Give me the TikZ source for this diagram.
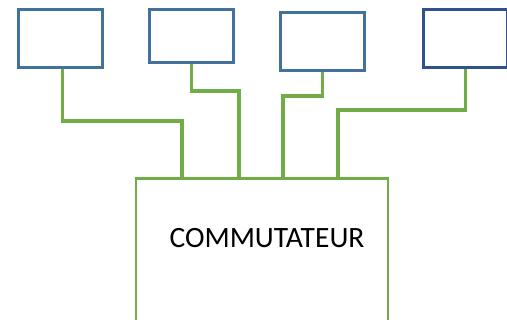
\documentclass[tikz,border=0pt]{standalone}
\usepackage{fontspec}
\setmainfont{Carlito}
\usetikzlibrary{calc}
\begin{document}
\begin{tikzpicture}[x=1pt,y=-1pt,
  pc/.style={draw=boxblue,line width=2.6pt,minimum width=84pt,inner sep=0pt,anchor=north west},
  conn/.style={draw=swgreen,line width=3.6pt,line join=miter},
  switchbox/.style={draw=swgreen,line width=2.4pt,anchor=north west,inner sep=0pt,minimum width=252pt,minimum height=160pt}]
\definecolor{boxblue}{HTML}{41719C}
\definecolor{darkblue}{HTML}{2F528F}
\definecolor{swgreen}{HTML}{70AD47}
\useasboundingbox (0,0) rectangle (507,320);
\clip (0,0) rectangle (507,320);
\node[pc,minimum height=58pt] (b1) at (17,8) {};
\node[pc,minimum height=53pt] (b2) at (148,8.5) {};
\node[pc,minimum height=58pt] (b3) at (279,11) {};
\node[pc,draw=darkblue,minimum height=58pt] (b4) at (422,8) {};
\node[switchbox] (sw) at (135,177.5) {};
\node[font=\fontsize{29.5}{34}\selectfont] (lbl) at (267,238) {COMMUTATEUR};
\draw[conn] ($(b1.south)+(2,0)$) |- (182,121) -- (sw.north -| 182,0);
\draw[conn] (b2.south) |- (239,91) -- (sw.north -| 239,0);
\draw[conn] (b3.south) |- (283,96) -- (sw.north -| 283,0);
\draw[conn] (b4.south) |- (338,110) -- (sw.north -| 338,0);
\end{tikzpicture}
\end{document}
